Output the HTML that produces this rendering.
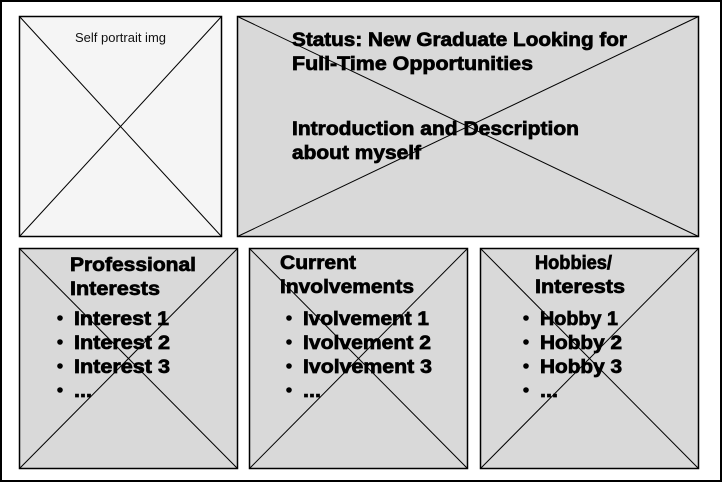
<!DOCTYPE html>
<html><head><style>body{margin:0;background:#fff}svg{display:block}</style></head><body>
<svg width="722" height="482" xmlns="http://www.w3.org/2000/svg" font-family="Liberation Sans, sans-serif">
<rect x="1" y="1" width="720" height="480" fill="#fff" stroke="#000" stroke-width="2"/>
<g stroke="#000" stroke-width="1">
<rect x="19.5" y="16.5" width="202" height="220" fill="#f5f5f5" stroke-width="1.5"/>
<line x1="19.5" y1="16.5" x2="221.5" y2="236.5"/><line x1="221.5" y1="16.5" x2="19.5" y2="236.5"/>
<rect x="237.5" y="16.5" width="461" height="220" fill="#d9d9d9" stroke-width="1.5"/>
<line x1="237.5" y1="16.5" x2="698.5" y2="236.5"/><line x1="698.5" y1="16.5" x2="237.5" y2="236.5"/>
<rect x="19.5" y="248.5" width="218" height="220" fill="#d9d9d9" stroke-width="1.5"/>
<line x1="19.5" y1="248.5" x2="237.5" y2="468.5"/><line x1="237.5" y1="248.5" x2="19.5" y2="468.5"/>
<rect x="249.5" y="248.5" width="218" height="220" fill="#d9d9d9" stroke-width="1.5"/>
<line x1="249.5" y1="248.5" x2="467.5" y2="468.5"/><line x1="467.5" y1="248.5" x2="249.5" y2="468.5"/>
<rect x="480.5" y="248.5" width="218" height="220" fill="#d9d9d9" stroke-width="1.5"/>
<line x1="480.5" y1="248.5" x2="698.5" y2="468.5"/><line x1="698.5" y1="248.5" x2="480.5" y2="468.5"/>
</g>
<text x="75" y="42" font-size="12.5" textLength="91" lengthAdjust="spacingAndGlyphs" fill="#111">Self portrait img</text>
<g font-weight="bold" font-size="19" fill="#000" stroke="#000" stroke-width="0.7" lengthAdjust="spacingAndGlyphs">
<text x="292" y="46" textLength="335" lengthAdjust="spacingAndGlyphs">Status: New Graduate Looking for</text>
<text x="292" y="70" textLength="241" lengthAdjust="spacingAndGlyphs">Full-Time Opportunities</text>
<text x="292" y="135" textLength="287" lengthAdjust="spacingAndGlyphs">Introduction and Description</text>
<text x="292" y="159" textLength="129" lengthAdjust="spacingAndGlyphs">about myself</text>
<text x="70" y="271" textLength="126" lengthAdjust="spacingAndGlyphs">Professional</text>
<text x="70" y="295" textLength="90" lengthAdjust="spacingAndGlyphs">Interests</text>
<text x="280" y="269" textLength="76" lengthAdjust="spacingAndGlyphs">Current</text>
<text x="280" y="293" textLength="134" lengthAdjust="spacingAndGlyphs">Involvements</text>
<text x="535" y="269" textLength="77" lengthAdjust="spacingAndGlyphs">Hobbies/</text>
<text x="535" y="293" textLength="90" lengthAdjust="spacingAndGlyphs">Interests</text>
<text x="74" y="325" textLength="95" lengthAdjust="spacingAndGlyphs">Interest 1</text><text x="74" y="349" textLength="96" lengthAdjust="spacingAndGlyphs">Interest 2</text><text x="74" y="373" textLength="96" lengthAdjust="spacingAndGlyphs">Interest 3</text><text x="74" y="397" textLength="18" lengthAdjust="spacingAndGlyphs">...</text>
<text x="303" y="325" textLength="126" lengthAdjust="spacingAndGlyphs">Ivolvement 1</text><text x="303" y="349" textLength="128" lengthAdjust="spacingAndGlyphs">Ivolvement 2</text><text x="303" y="373" textLength="129" lengthAdjust="spacingAndGlyphs">Ivolvement 3</text><text x="303" y="397" textLength="18" lengthAdjust="spacingAndGlyphs">...</text>
<text x="540" y="325" textLength="78" lengthAdjust="spacingAndGlyphs">Hobby 1</text><text x="540" y="349" textLength="82" lengthAdjust="spacingAndGlyphs">Hobby 2</text><text x="540" y="373" textLength="82" lengthAdjust="spacingAndGlyphs">Hobby 3</text><text x="540" y="397" textLength="18" lengthAdjust="spacingAndGlyphs">...</text>
</g>
<g fill="#000">
<circle cx="60" cy="318" r="2.8"/><circle cx="60" cy="342" r="2.8"/><circle cx="60" cy="366" r="2.8"/><circle cx="60" cy="390" r="2.8"/>
<circle cx="289" cy="318" r="2.8"/><circle cx="289" cy="342" r="2.8"/><circle cx="289" cy="366" r="2.8"/><circle cx="289" cy="390" r="2.8"/>
<circle cx="526" cy="318" r="2.8"/><circle cx="526" cy="342" r="2.8"/><circle cx="526" cy="366" r="2.8"/><circle cx="526" cy="390" r="2.8"/>
</g>
</svg>
</body></html>
